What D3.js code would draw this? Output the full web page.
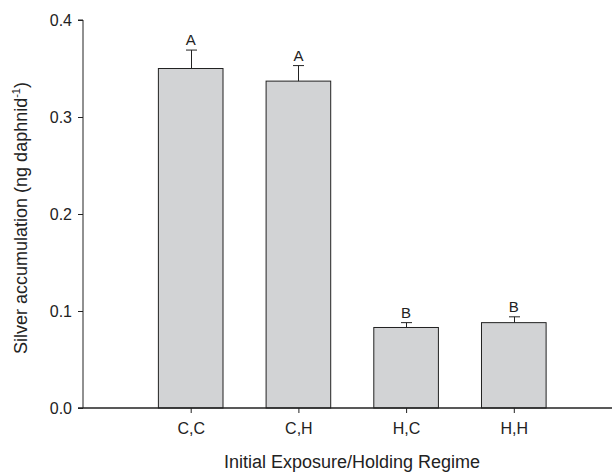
<!DOCTYPE html>
<html>
<head>
<meta charset="utf-8">
<script src="https://cdn.jsdelivr.net/npm/d3@7"></script>
<style>
  html, body { margin: 0; padding: 0; background: #fff; }
  svg { display: block; font-family: "Liberation Sans", Arial, sans-serif; }
</style>
</head>
<body>
<svg id="chart" width="612" height="472"></svg>
<script>
// Silver accumulation by initial exposure / holding regime
const categories = ["C,C", "C,H", "H,C", "H,H"];
const means = [0.350, 0.337, 0.083, 0.088];
const errors = [0.019, 0.016, 0.005, 0.006];
const groupLabels = ["A", "A", "B", "B"];
const yTicks = [0.0, 0.1, 0.2, 0.3, 0.4];

const svg = d3.select("#chart");
const ink = "#222";

const x = d3.scaleLinear().domain([0, 5]).range([83, 621.5]);
const y = d3.scaleLinear().domain([0, 0.4]).range([408, 20]);
const barW = (x(1) - x(0)) * 0.6;

// bars
svg.append("g").selectAll("rect")
  .data(means)
  .join("rect")
  .attr("x", (d, i) => x(i + 1) - barW / 2)
  .attr("y", d => y(d))
  .attr("width", barW)
  .attr("height", d => y(0) - y(d))
  .attr("fill", "#d2d3d5")
  .attr("stroke", ink)
  .attr("stroke-width", 1);

// upper error bars with caps
const eb = svg.append("g").attr("stroke", ink).attr("stroke-width", 1);
means.forEach((m, i) => {
  const cx = Math.round(x(i + 1)) + 0.5;
  eb.append("line").attr("x1", cx).attr("x2", cx)
    .attr("y1", y(m)).attr("y2", y(m + errors[i]));
  eb.append("line").attr("x1", cx - 5.5).attr("x2", cx + 5.5)
    .attr("y1", y(m + errors[i])).attr("y2", y(m + errors[i]));
});

// significance letters
svg.append("g").selectAll("text")
  .data(groupLabels)
  .join("text")
  .attr("x", (d, i) => x(i + 1))
  .attr("y", (d, i) => y(means[i] + errors[i]) - 5)
  .attr("text-anchor", "middle")
  .attr("font-size", 15)
  .attr("fill", ink)
  .text(d => d);

// y axis
const yAxis = svg.append("g")
  .attr("transform", "translate(83,0)")
  .call(d3.axisLeft(y).tickValues(yTicks).tickFormat(d3.format(".1f")).tickSize(5).tickPadding(6));
yAxis.select(".domain").attr("stroke", ink).attr("d", `M-5,${y(0.4)}H0V${y(0)}`);
yAxis.selectAll(".tick line").attr("stroke", ink);
yAxis.selectAll(".tick text").attr("font-size", 16).attr("fill", ink).attr("font-family", "Liberation Sans, Arial, sans-serif");

// x axis
const xAxis = svg.append("g")
  .attr("transform", "translate(0,408)")
  .call(d3.axisBottom(x).tickValues([1, 2, 3, 4]).tickFormat(d => categories[d - 1]).tickSize(5).tickPadding(10));
xAxis.select(".domain").attr("stroke", ink).attr("stroke-width", 1.5).attr("d", "M78,0H612");
xAxis.selectAll(".tick line").attr("stroke", ink);
xAxis.selectAll(".tick text").attr("font-size", 16).attr("fill", ink).attr("font-family", "Liberation Sans, Arial, sans-serif");

// axis titles
svg.append("text")
  .attr("x", 352).attr("y", 468)
  .attr("text-anchor", "middle")
  .attr("font-size", 18)
  .attr("fill", ink)
  .text("Initial Exposure/Holding Regime");

const yt = svg.append("text")
  .attr("transform", "translate(27,218) rotate(-90)")
  .attr("text-anchor", "middle")
  .attr("font-size", 18)
  .attr("fill", ink);
yt.append("tspan").text("Silver accumulation (ng daphnid");
yt.append("tspan").attr("font-size", 11).attr("dy", -7).text("-1");
yt.append("tspan").attr("dy", 7).text(")");
</script>
</body>
</html>
